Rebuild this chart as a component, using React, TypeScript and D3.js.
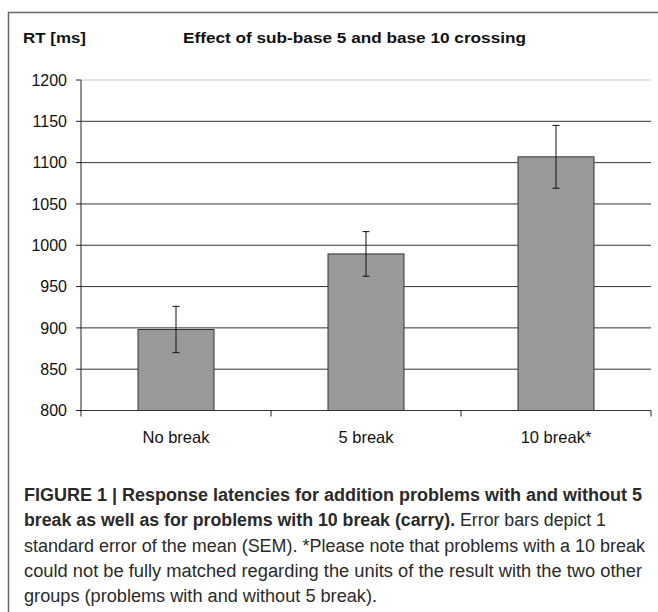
import React from 'react';
import * as d3 from 'd3';

const categories = ['No break', '5 break', '10 break*'];
const meanRT = [898, 989.5, 1107];
const semRT = [28, 27, 38];
const yTicks = [800, 850, 900, 950, 1000, 1050, 1100, 1150, 1200];

const W = 658;
const H = 612;
const chartFont = '"Liberation Sans", Arial, sans-serif';
const captionFont = '"Liberation Sans Narrow", "Liberation Sans", Arial, sans-serif';

const App = () => {
  const margin = { left: 81, right: 651, top: 80, bottom: 410.5 };

  const x = d3.scaleBand().domain(categories).range([margin.left, margin.right]).paddingInner(0.6).paddingOuter(0.3);
  const y = d3.scaleLinear().domain([800, 1200]).range([margin.bottom, margin.top]);

  const step = x.step();
  const boundaries = d3.range(categories.length + 1).map((i) => margin.left + i * step);

  return (
    <svg width={W} height={H} style={{ position: 'absolute', left: 0, top: 0, background: '#fff' }}>
      {/* frame */}
      <path d={`M8.5,${H} L8.5,12.5 L${W},12.5`} fill="none" stroke="#666" strokeWidth={1.5} />

      <text x={23} y={43} fontFamily={chartFont} fontWeight="bold" fontSize={15.5} fill="#111" textLength={63} lengthAdjust="spacingAndGlyphs">
        RT [ms]
      </text>
      <text x={183} y={43} fontFamily={chartFont} fontWeight="bold" fontSize={15.5} fill="#111" textLength={343} lengthAdjust="spacingAndGlyphs">
        Effect of sub-base 5 and base 10 crossing
      </text>

      {/* gridlines */}
      {yTicks.map((t) => (
        <line key={t} x1={margin.left} x2={margin.right} y1={y(t)} y2={y(t)} stroke={t === 1200 ? '#c8c8c8' : '#333'} strokeWidth={1} />
      ))}

      {/* y axis */}
      <line x1={margin.left} x2={margin.left} y1={y(1200)} y2={y(800)} stroke="#222" />
      {yTicks.map((t) => (
        <g key={'t' + t}>
          <line x1={margin.left - 5} x2={margin.left} y1={y(t)} y2={y(t)} stroke="#222" />
          <text x={67} y={y(t)} dy="0.36em" textAnchor="end" fontFamily={chartFont} fontSize={16} fill="#111">
            {t}
          </text>
        </g>
      ))}

      {/* x axis ticks */}
      {boundaries.map((b, i) => (
        <line key={'b' + i} x1={b} x2={b} y1={y(800)} y2={y(800) + 6} stroke="#222" />
      ))}

      {/* bars */}
      {categories.map((c, i) => (
        <rect
          key={c}
          x={x(c)}
          y={y(meanRT[i])}
          width={x.bandwidth()}
          height={y(800) - y(meanRT[i])}
          fill="#999999"
          stroke="#333"
          strokeWidth={1}
        />
      ))}

      {/* error bars */}
      {categories.map((c, i) => {
        const cx = x(c) + x.bandwidth() / 2;
        const top = y(meanRT[i] + semRT[i]);
        const bot = y(meanRT[i] - semRT[i]);
        return (
          <g key={'e' + c} stroke="#111" strokeWidth={1}>
            <line x1={cx} x2={cx} y1={top} y2={bot} />
            <line x1={cx - 3.5} x2={cx + 3.5} y1={top} y2={top} />
            <line x1={cx - 3.5} x2={cx + 3.5} y1={bot} y2={bot} />
          </g>
        );
      })}

      {categories.map((c) => (
        <text key={'l' + c} x={x(c) + x.bandwidth() / 2} y={443} textAnchor="middle" fontFamily={chartFont} fontSize={16.5} fill="#111">
          {c}
        </text>
      ))}

      {/* caption */}
      <g fontFamily={captionFont} fontSize={18} fill="#2a2a2a">
        <text x={24} y={501} fontWeight="bold" textLength={618} lengthAdjust="spacingAndGlyphs">
          FIGURE 1 | Response latencies for addition problems with and without 5
        </text>
        <text x={24} y={526} textLength={582} lengthAdjust="spacingAndGlyphs">
          <tspan fontWeight="bold">break as well as for problems with 10 break (carry).</tspan>
          <tspan> Error bars depict 1</tspan>
        </text>
        <text x={24} y={551.5} textLength={621} lengthAdjust="spacingAndGlyphs">
          standard error of the mean (SEM). *Please note that problems with a 10 break
        </text>
        <text x={24} y={577} textLength={618} lengthAdjust="spacingAndGlyphs">
          could not be fully matched regarding the units of the result with the two other
        </text>
        <text x={24} y={602} textLength={353} lengthAdjust="spacingAndGlyphs">
          groups (problems with and without 5 break).
        </text>
      </g>
    </svg>
  );
};

export default App;
